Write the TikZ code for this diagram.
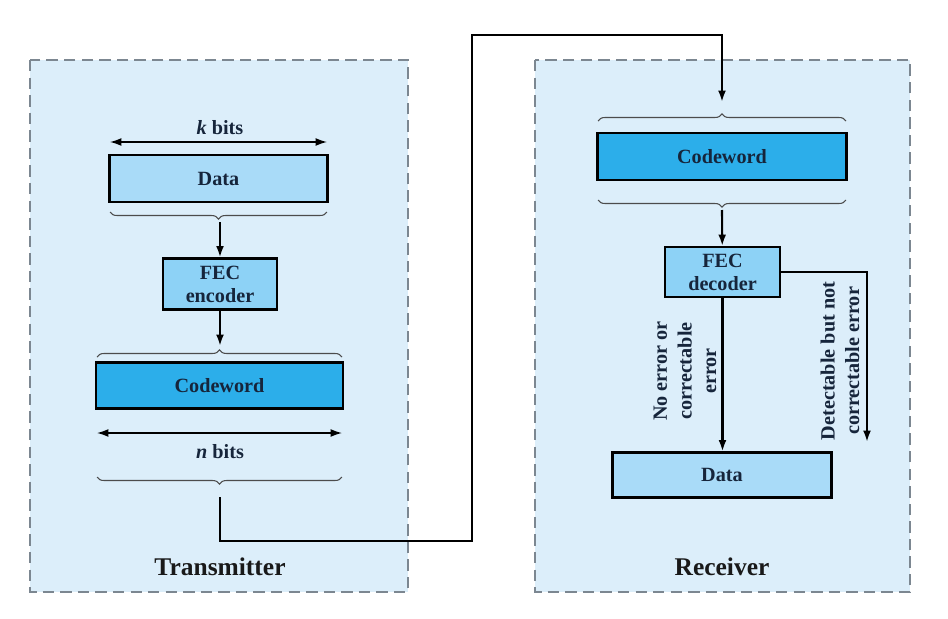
\documentclass[tikz,border=0pt]{standalone}
\usepackage{fontspec}
\setmainfont{Liberation Serif}
\usetikzlibrary{decorations.pathreplacing,arrows.meta}
\definecolor{panelblue}{HTML}{DCEEFA}
\definecolor{datablue}{HTML}{A9DBF8}
\definecolor{fecblue}{HTML}{8DD2F6}
\definecolor{wordblue}{HTML}{2CAEEA}
\definecolor{inkblue}{HTML}{16253B}
\definecolor{dashgray}{HTML}{7C8791}

\begin{document}
\begin{tikzpicture}[x=0.02cm,y=-0.02cm,>={Latex[length=6.5pt,width=4.5pt]},
	panel/.style={draw=dashgray,fill=panelblue,line width=0.8pt,dash pattern=on 6.5pt off 3.5pt},
	field/.style={draw=black,line width=1.2pt,text=inkblue,font=\fontsize{11.5}{13}\selectfont\bfseries,align=center,inner sep=0pt},
	lbl/.style={text=inkblue,font=\fontsize{11.5}{14}\selectfont\bfseries,align=center,inner sep=0pt},
	brc/.style={draw=black!70,line width=0.6pt,decorate,decoration={brace,amplitude=4pt}},
	link/.style={line width=1.2pt}]
	\useasboundingbox (0,0) rectangle (948,619);
	\fill[white] (0,0) rectangle (948,619);
	% the two sides
	\draw[panel] (30,60) rectangle (408,592);
	\draw[panel] (535,60) rectangle (910,592);
	\node[font=\fontsize{14.5}{16}\selectfont\bfseries,text=black!90] (tx) at (220,567) {Transmitter};
	\node[font=\fontsize{14.5}{16}\selectfont\bfseries,text=black!90] (rx) at (722,567) {Receiver};
	% transmitter
	\node[field,fill=datablue,minimum width=4.36cm,minimum height=0.94cm] (txdata) at (218.5,178.5) {Data};
	\node[field,fill=fecblue,minimum width=2.28cm,minimum height=1.02cm] (fecenc) at (220,284) {FEC\\encoder};
	\node[field,fill=wordblue,minimum width=4.94cm,minimum height=0.92cm] (txword) at (219.5,385.5) {Codeword};
	\node[lbl] (kbits) at (220,128) {\textit{k} bits};
	\node[lbl] (nbits) at (220,452) {\textit{n} bits};
	\draw[<->,line width=0.8pt] (110,142) -- (327,142);
	\draw[<->,line width=0.8pt] (97,433) -- (342,433);
	\draw[brc] (327,212) -- (110,212);
	\draw[brc] (97,357) -- (342,357);
	\draw[brc] (342,477) -- (97,477);
	\coordinate (txb1) at (220,222);
	\coordinate (txb2) at (220,346);
	\coordinate (txout) at (220,497);
	\draw[->,link] (txb1) -- (fecenc);
	\draw[->,link] (fecenc) -- (txb2);
	% receiver
	\node[field,fill=wordblue,minimum width=4.98cm,minimum height=0.94cm] (rxword) at (722,156.5) {Codeword};
	\node[field,fill=fecblue,minimum width=2.3cm,minimum height=1.0cm] (fecdec) at (722.5,272) {FEC\\decoder};
	\node[field,fill=datablue,minimum width=4.38cm,minimum height=0.9cm] (rxdata) at (722,475) {Data};
	\draw[brc] (598,121) -- (846,121);
	\draw[brc] (846,200) -- (598,200);
	\coordinate (rxin) at (722,102);
	\coordinate (rxb2) at (722,210);
	\coordinate (drop) at (867,442);
	\draw[->,link] (rxb2) -- (fecdec);
	\draw[->,link] (fecdec.south) -- (fecdec.south |- rxdata.north);
	\draw[->,link] (fecdec.east) -| (drop);
	\node[lbl,rotate=90] (okmsg) at (685,371) {No error or\\correctable\\error};
	\node[lbl,rotate=90] (badmsg) at (840,361) {Detectable but not\\correctable error};
	% channel
	\draw[->,link] (txout) |- (472,541) -- (472,35) -| (rxin);
\end{tikzpicture}
\end{document}
